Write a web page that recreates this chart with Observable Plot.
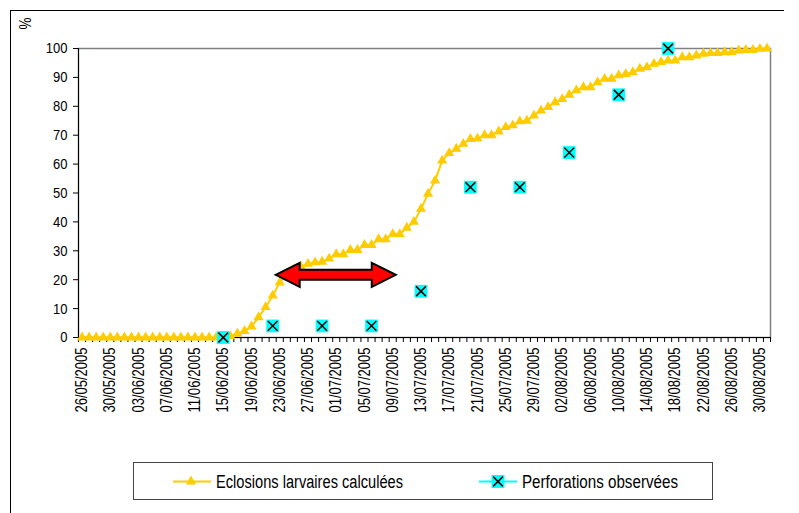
<!DOCTYPE html>
<html><head><meta charset="utf-8">
<script src="https://cdn.jsdelivr.net/npm/d3@7"></script>
<script src="https://cdn.jsdelivr.net/npm/@observablehq/plot@0.6"></script>
<style>
body{margin:0;background:#fff;}
#wrap{position:relative;width:799px;height:513px;overflow:hidden;font-family:"Liberation Sans",Arial,sans-serif;}
#frame{position:absolute;left:10px;top:10px;width:773px;height:600px;border-left:1px solid #000;border-top:1px solid #000;}
#chart{position:absolute;left:0;top:0;}
#legend{position:absolute;left:133px;top:462px;width:578px;height:36px;border:1px solid #444;background:#fff;}
</style></head><body><div id="wrap"><div id="frame"></div><div id="chart"></div><div id="legend"></div></div>
<script>
// categories: one per day, 26/05/2005 .. 31/08/2005
const startDate = "2005-05-26", endDate = "2005-09-01";
const fmt = d3.utcFormat("%d/%m/%Y");
const dates = d3.utcDay.range(new Date(startDate), new Date(endDate)).map(fmt);

const tickLabels = ["26/05/2005","30/05/2005","03/06/2005","07/06/2005","11/06/2005","15/06/2005","19/06/2005","23/06/2005","27/06/2005","01/07/2005","05/07/2005","09/07/2005","13/07/2005","17/07/2005","21/07/2005","25/07/2005","29/07/2005","02/08/2005","06/08/2005","10/08/2005","14/08/2005","18/08/2005","22/08/2005","26/08/2005","30/08/2005"];
const yTicks = [0,10,20,30,40,50,60,70,80,90,100];

// Eclosions larvaires calculées (%), one value per day
const eclosions = [
  0,0,0,0,0,0,0,0,0,0,
  0,0,0,0,0,0,0,0,0,0,
  0,0.5,1.3,2.2,3.8,7,10.5,14.5,19,22,
  23.5,24.5,25.5,26,26.2,27.3,28.8,28.8,30.3,30.3,
  32,32,34,34,35.8,35.8,38,40,44.5,49.7,
  54.3,61.2,63.8,65.3,67,68.7,68.8,70,70,71.3,
  72.8,73.4,74.8,75,76.8,78.5,79.7,81.4,82.5,84,
  85.5,86.6,86.6,88.3,89.5,89.5,90.7,91.2,91.8,93,
  93.5,94.7,95.3,95.8,95.8,97,97,97.6,98.2,98.4,
  98.4,98.7,98.7,99.3,99.5,99.5,99.9,100
];

// Perforations observées (%)
const obsDates = ["15/06/2005","22/06/2005","29/06/2005","06/07/2005","13/07/2005","20/07/2005","27/07/2005","03/08/2005","10/08/2005","17/08/2005"];
const obsValues = [0,4,4,4,16,52,52,64,84,100];

// annotation arrow: from the 22/06-23/06 boundary to the 09/07-10/07 boundary, at 21.5 %
const arrowFrom = ["22/06/2005","23/06/2005"], arrowTo = ["09/07/2005","10/07/2005"], arrowLevel = 21.5;

const idx = d => dates.indexOf(d);
const ecl = eclosions.map((v, i) => ({i, v}));
const obs = obsDates.map((d, k) => ({i: idx(d), v: obsValues[k]}));
const bounds = d3.range(dates.length + 1).map(i => i - 0.5);
const gold = "#FFCC00", cyan = "#00FFFF";
const font = '"Liberation Sans",Arial,sans-serif';

function arrowMark(index, scales) {
  const x1 = scales.x((idx(arrowFrom[0]) + idx(arrowFrom[1])) / 2);
  const x2 = scales.x((idx(arrowTo[0]) + idx(arrowTo[1])) / 2);
  const y = scales.y(arrowLevel);
  const hl = 24, hh = 12, sh = 5;
  const pts = [[x1,y],[x1+hl,y-hh],[x1+hl,y-sh],[x2-hl,y-sh],[x2-hl,y-hh],[x2,y],[x2-hl,y+hh],[x2-hl,y+sh],[x1+hl,y+sh],[x1+hl,y+hh]];
  return d3.create("svg:polygon")
    .attr("points", pts.map(p => p.join(",")).join(" "))
    .attr("fill", "#FF0000").attr("stroke", "#000").attr("stroke-width", 2)
    .attr("stroke-linejoin", "miter").node();
}

const chart = Plot.plot({
  width: 799, height: 455,
  marginLeft: 78, marginRight: 29, marginTop: 48, marginBottom: 118,
  style: {fontFamily: font, fontSize: "16px", color: "#000", background: "transparent", overflow: "visible"},
  x: {domain: [-0.5, dates.length - 0.5]},
  y: {domain: [0, 100]},
  marks: [
    Plot.frame({stroke: "#808080", strokeWidth: 1.5}),
    Plot.axisY({ticks: yTicks, tickSize: 5, tickPadding: 6, label: null, stroke: "#000", fontSize: 15.5}),
    Plot.axisX({ticks: tickLabels.map(idx), tickFormat: i => dates[i], tickRotate: -90, tickSize: 0, tickPadding: 10, label: null, fontSize: 16, ariaLabel: "xlabels"}),
    Plot.axisX({ticks: bounds, tickFormat: () => "", tickSize: 5, label: null, stroke: "#000"}),
    Plot.ruleX([-0.5], {stroke: "#000"}),
    Plot.ruleY([0], {stroke: "#000"}),
    Plot.line(ecl, {x: "i", y: "v", stroke: gold, strokeWidth: 2}),
    Plot.dot(ecl, {x: "i", y: "v", symbol: "triangle", r: 3.8, fill: gold, stroke: null}),
    Plot.dot(obs, {x: "i", y: "v", symbol: "square", r: 7.2, fill: cyan, stroke: null}),
    Plot.dot(obs, {x: "i", y: "v", symbol: "times", r: 4.5, stroke: "#000", strokeWidth: 1.5, fill: null}),
    arrowMark,
    Plot.text(["%"], {frameAnchor: "top-left", dx: -53, dy: -25, rotate: -90, textAnchor: "middle", lineAnchor: "middle", fontSize: 16})
  ]
});
document.getElementById("chart").append(chart);

// legend
const lg = d3.select("#legend").append("svg").attr("width", 578).attr("height", 36)
  .style("font-family", font).style("font-size", "18px");
lg.append("line").attr("x1", 39).attr("x2", 77).attr("y1", 18.5).attr("y2", 18.5).attr("stroke", gold).attr("stroke-width", 2);
lg.append("path").attr("d", d3.symbol(d3.symbolTriangle, 3.8 * 3.8 * Math.PI)()).attr("transform", "translate(57,18.5)").attr("fill", gold);
lg.append("text").attr("x", 82).attr("y", 25).attr("data-len", 187).text("Eclosions larvaires calculées");
lg.append("line").attr("x1", 345).attr("x2", 383).attr("y1", 18.5).attr("y2", 18.5).attr("stroke", cyan).attr("stroke-width", 2);
lg.append("rect").attr("x", 357.5).attr("y", 12).attr("width", 13).attr("height", 13).attr("fill", cyan);
lg.append("path").attr("d", d3.symbol(d3.symbolTimes, 4.5 * 4.5 * Math.PI)()).attr("transform", "translate(364,18.5)").attr("stroke", "#000").attr("stroke-width", 1.5).attr("fill", "none");
lg.append("text").attr("x", 388).attr("y", 25).attr("data-len", 156).text("Perforations observées");

// the reference uses a narrow face: compress glyphs horizontally
const dateLabels = new Set(tickLabels);
function condense(root, k) {
  root.querySelectorAll("text").forEach(t => {
    const s = t.textContent.trim();
    if (!s || t.querySelector("tspan")) return;
    let L = t.getComputedTextLength() * k;
    if (t.dataset.len) L = +t.dataset.len;
    else if (dateLabels.has(s)) L = 65;
    if (L > 0) {
      t.setAttribute("textLength", L.toFixed(2));
      t.setAttribute("lengthAdjust", "spacingAndGlyphs");
    }
  });
}
condense(document.getElementById("wrap"), 0.84);
</script></body></html>
